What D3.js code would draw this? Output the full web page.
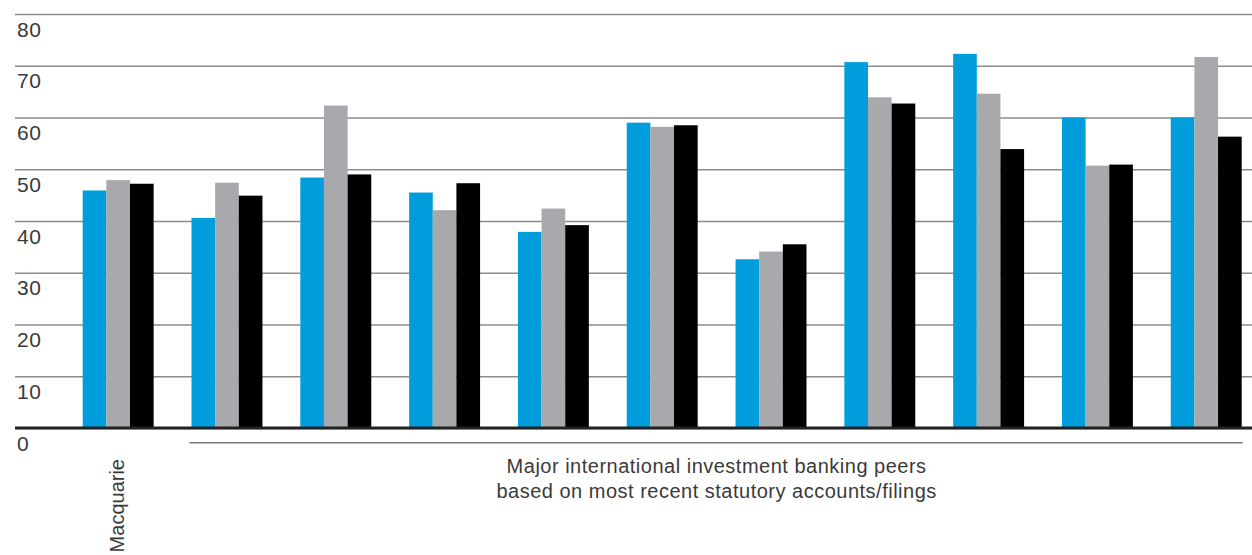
<!DOCTYPE html>
<html>
<head>
<meta charset="utf-8">
<script src="https://cdn.jsdelivr.net/npm/d3@7"></script>
<style>
  html, body { margin: 0; padding: 0; background: #fff; }
  svg { display: block; }
  text { font-family: "Liberation Sans", Arial, sans-serif; fill: #3a3a3a; }
</style>
</head>
<body>
<svg id="chart" width="1252" height="555"></svg>
<script>
// data
var groups = ['Macquarie', 'peer1', 'peer2', 'peer3', 'peer4', 'peer5', 'peer6', 'peer7', 'peer8', 'peer9', 'peer10'];
var series = ['a', 'b', 'c'];
var seriesA = [45.9, 40.6, 48.4, 45.5, 37.9, 59.0, 32.6, 70.7, 72.3, 60.0, 60.0];
var seriesB = [47.9, 47.4, 62.3, 42.1, 42.4, 58.2, 34.1, 63.9, 64.6, 50.7, 71.7];
var seriesC = [47.2, 44.9, 49.0, 47.3, 39.2, 58.5, 35.5, 62.7, 53.9, 50.9, 56.3];
var yTicks = [0, 10, 20, 30, 40, 50, 60, 70, 80];
var colors = ['#009ddc', '#a7a9ac', '#000000'];
var peersLabel = ['Major international investment banking peers',
                  'based on most recent statutory accounts/filings'];

var svg = d3.select('#chart');

var y = d3.scaleLinear().domain([0, 80]).range([428, 14]);

var x = d3.scaleBand()
    .domain(groups)
    .range([82.7, 1241.7])
    .paddingInner(0.348)
    .paddingOuter(0);

var xs = d3.scaleBand()
    .domain(series)
    .range([0, x.bandwidth()])
    .padding(0);

// gridlines + tick labels, labels sit just under each line
var axis = svg.append('g')
    .attr('transform', 'translate(15,0)')
    .call(d3.axisRight(y).tickValues(yTicks).tickSize(1237).tickFormat(d3.format('d')));
axis.select('.domain').remove();
axis.selectAll('.tick line')
    .attr('stroke', '#8c8c8c')
    .attr('stroke-width', 1.6);
axis.selectAll('.tick text')
    .attr('x', 2)
    .attr('dy', 0)
    .attr('y', 22)
    .attr('text-anchor', 'start')
    .style('font-size', '21px')
    .style('letter-spacing', '0.6px')
    .style('font-family', '"Liberation Sans", Arial, sans-serif')
    .attr('fill', '#4a4a4a');

// bars
var table = groups.map(function(g, i) {
    return { group: g, values: [seriesA[i], seriesB[i], seriesC[i]] };
});

var grp = svg.append('g').selectAll('g')
    .data(table)
    .enter().append('g')
    .attr('transform', function(d) { return 'translate(' + x(d.group) + ',0)'; });

grp.selectAll('rect')
    .data(function(d) { return d.values.map(function(v, j) { return { key: series[j], value: v, c: colors[j] }; }); })
    .enter().append('rect')
    .attr('x', function(d) { return xs(d.key); })
    .attr('width', xs.bandwidth())
    .attr('y', function(d) { return y(d.value); })
    .attr('height', function(d) { return y(0) - y(d.value); })
    .attr('fill', function(d) { return d.c; });

// zero line on top of the bars
svg.append('line')
    .attr('x1', 15).attr('x2', 1252)
    .attr('y1', y(0)).attr('y2', y(0))
    .attr('stroke', '#222')
    .attr('stroke-width', 2.8);

// bracket line under the peers
svg.append('line')
    .attr('x1', x(groups[1]) - 2).attr('x2', x(groups[10]) + x.bandwidth() + 1)
    .attr('y1', 442.7).attr('y2', 442.7)
    .attr('stroke', '#7a7a7a')
    .attr('stroke-width', 1.4);

var peerMid = (x(groups[1]) + x(groups[10]) + x.bandwidth()) / 2;
svg.append('text')
    .attr('x', peerMid)
    .attr('text-anchor', 'middle')
    .style('font-size', '20px')
    .style('letter-spacing', '0.5px')
    .selectAll('tspan')
    .data(peersLabel)
    .enter().append('tspan')
    .attr('x', peerMid)
    .attr('y', function(d, i) { return 473 + i * 24.5; })
    .text(function(d) { return d; });

// rotated Macquarie label (kept just inside the bottom edge)
var mx = x(groups[0]) + x.bandwidth() / 2;
svg.append('text')
    .attr('transform', 'translate(' + (mx + 6) + ',459) rotate(-90)')
    .attr('text-anchor', 'end')
    .style('font-size', '20px')
    .text('Macquarie');
</script>
</body>
</html>
